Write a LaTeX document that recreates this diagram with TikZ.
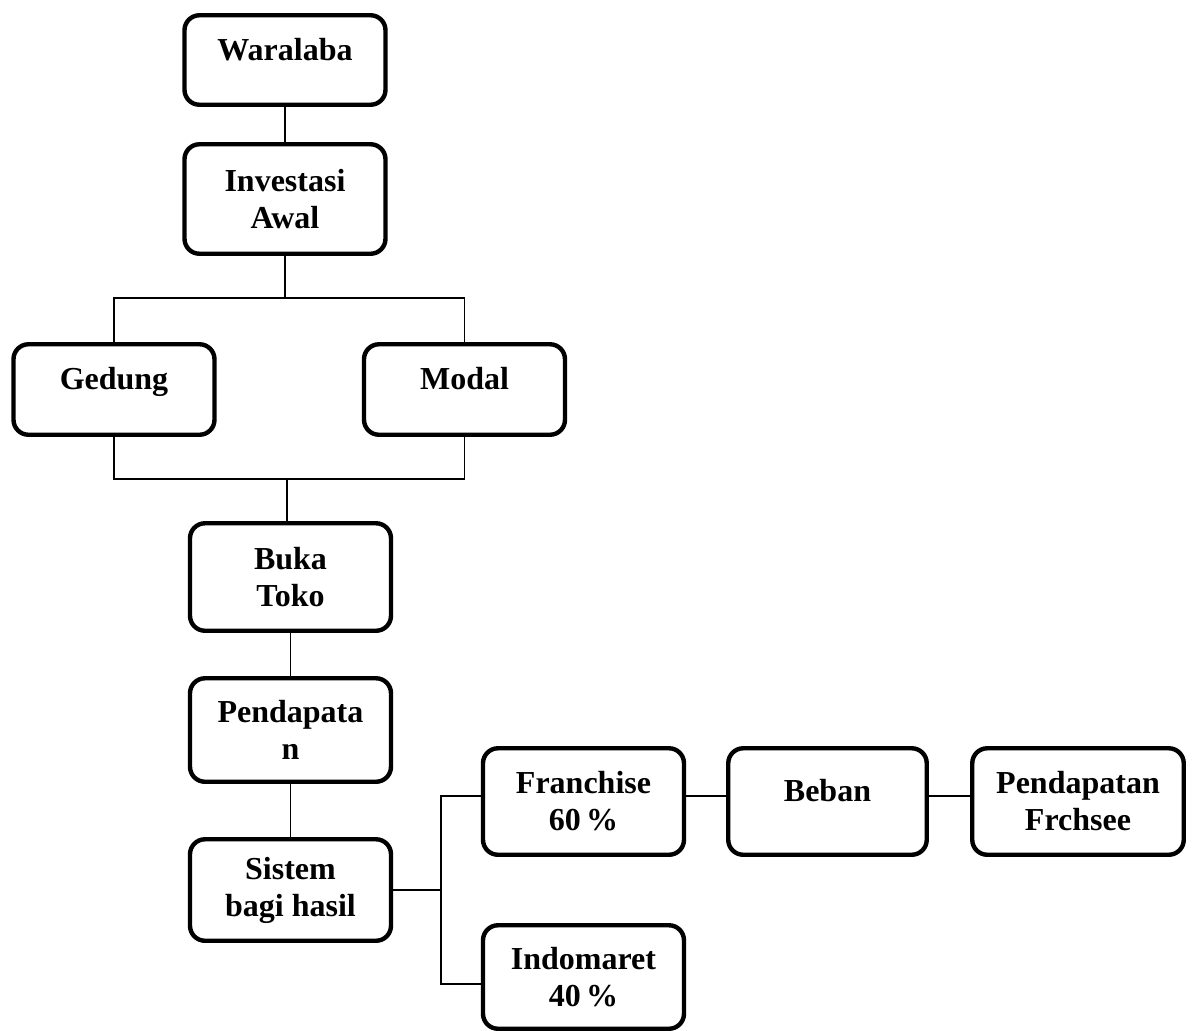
\documentclass[tikz,border=0pt]{standalone}
\usepackage{fontspec}
\setmainfont{Liberation Serif}
\usepackage{tikz}
\usetikzlibrary{positioning,calc}

\begin{document}
\begin{tikzpicture}[x=0.5pt, y=-0.5pt,
    box/.style={draw, line width=2.2pt, rounded corners=7.5pt, inner sep=0pt,
        align=center, minimum width=100.5pt, font=\bfseries\fontsize{16}{18.5}\selectfont},
    oneline/.style={text height=11pt, text depth=11pt},
    link/.style={line width=0.85pt}]
    \useasboundingbox (0,0) rectangle (1194,1030);
    % Main column
    \node[box, oneline, minimum height=44.75pt] (waralaba) at (285,60) {Waralaba};
    \node[box, minimum height=54.75pt] (investasi) at (285,199) {Investasi\\Awal};
    \node[box, oneline, minimum height=45.25pt] (gedung) at (114,389.5) {Gedung};
    \node[box, oneline, minimum height=45.25pt] (modal) at (464.5,389.5) {Modal};
    \node[box, minimum height=53.75pt] (buka) at (290.5,577) {Buka\\Toko};
    \node[box, minimum height=51.75pt] (pendapatan) at (290.5,730) {Pendapata\\n};
    \node[box, minimum height=50.75pt] (sistem) at (290.5,890) {Sistem\\bagi hasil};
    % Profit sharing
    \node[box, minimum height=53.25pt] (franchise) at (583.5,801.5) {Franchise\\60\,\%};
    \node[box, minimum height=51.75pt] (indomaret) at (583.5,977) {Indomaret\\40\,\%};
    \node[box, oneline, minimum width=99.25pt, minimum height=53.25pt] (beban) at (827.5,801.5) {Beban};
    \node[box, minimum width=105.75pt, minimum height=53.25pt] (frchsee) at (1078,801.5) {Pendapatan\\Frchsee};

    \coordinate (split) at (285,298);
    \coordinate (join) at (287,479);
    \coordinate (fork) at (441,890);
    \draw[link] (waralaba) -- (investasi);
    \draw[link] (investasi) -- (split);
    \draw[link] (gedung.north) |- (split) -| (modal.north);
    \draw[link] (gedung.south) |- (join) -| (modal.south);
    \draw[link] (join) -- (join |- buka.north);
    \draw[link] (buka) -- (pendapatan);
    \draw[link] (pendapatan) -- (sistem);
    \draw[link] (sistem) -- (fork);
    \draw[link] ([yshift=2.75pt]franchise.west) -| (fork) |- ([yshift=-3.5pt]indomaret.west);
    \draw[link] ([yshift=2.75pt]franchise.east) -- ([yshift=2.75pt]beban.west);
    \draw[link] ([yshift=2.75pt]beban.east) -- ([yshift=2.75pt]frchsee.west);
\end{tikzpicture}
\end{document}
